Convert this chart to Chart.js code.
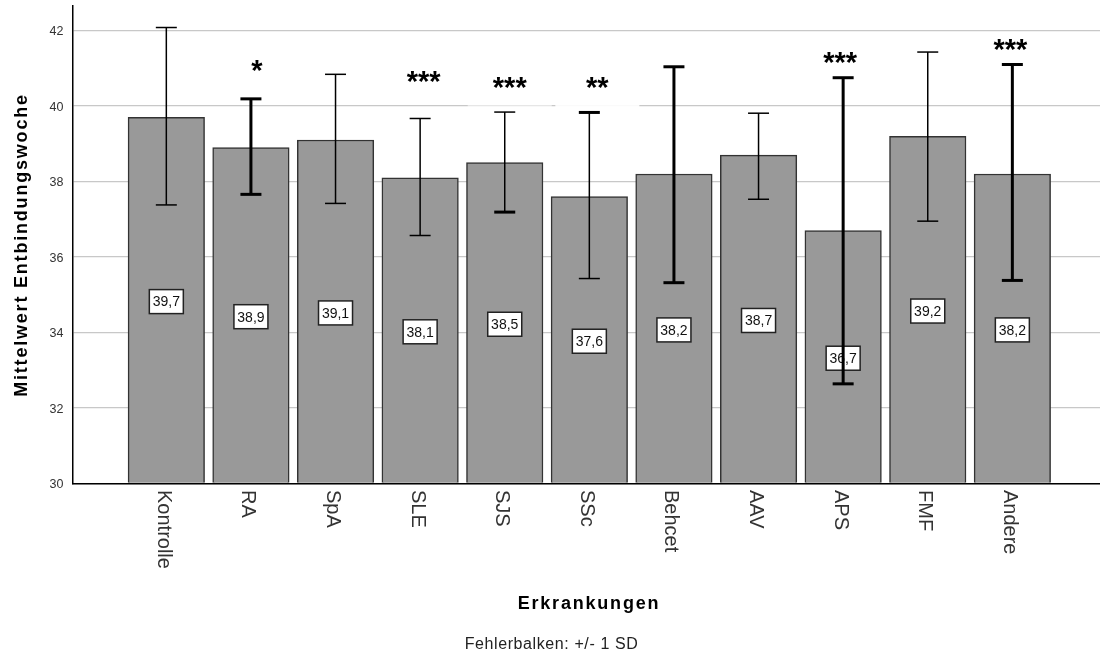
<!DOCTYPE html>
<html>
<head>
<meta charset="utf-8">
<script src="https://cdn.jsdelivr.net/npm/chart.js@4/dist/chart.umd.min.js"></script>
<style>
  html, body { margin: 0; padding: 0; background: #ffffff; }
  #wrap { width: 1100px; height: 653px; }
</style>
</head>
<body>
<div id="wrap"><canvas id="c" width="1100" height="653"></canvas></div>
<script>
// Gestational week at delivery by disease group (mean +/- 1 SD)
const categories = ['Kontrolle', 'RA', 'SpA', 'SLE', 'SJS', 'SSc', 'Behcet', 'AAV', 'APS', 'FMF', 'Andere'];
const means      = [39.7, 38.9, 39.1, 38.1, 38.5, 37.6, 38.2, 38.7, 36.7, 39.2, 38.2];
const sdLower    = [37.38, 37.66, 37.42, 36.57, 37.19, 35.43, 35.32, 37.53, 32.64, 36.95, 35.38];
const sdUpper    = [42.08, 40.19, 40.84, 39.67, 39.84, 39.83, 41.04, 39.81, 40.75, 41.43, 41.10];
const significance      = ['', '*', '', '***', '***', '**', '', '', '***', '', '***'];
const significanceLevel = [null, 41.05, null, 40.78, 40.62, 40.62, null, null, 41.28, null, 41.62];
const yTicks = [30, 32, 34, 36, 38, 40, 42];

// Stroke widths of the whiskers (stem, upper cap, lower cap)
const stemWidth  = [1.5, 3, 1.5, 1.5, 1.5, 1.5, 3, 1.5, 3, 1.5, 3];
const topCapW    = [1.5, 3, 1.5, 1.5, 1.5, 3, 3, 1.5, 3, 1.5, 3];
const bottomCapW = [1.5, 3, 1.5, 1.5, 3, 1.5, 3, 1.5, 3, 1.5, 3];
// small horizontal nudge of the significance marks (px)
const starShift  = [0, 6, 0, 3.5, 5, 8, 0, 0, -3, 0, -2];
// label backgrounds that sit over the 40 gridline
const starBgAlpha = [0, 0, 0, 0, 0.55, 0.9, 0, 0, 0, 0, 0];

const FONT = '"Liberation Sans", Arial, sans-serif';
const fmt = v => v.toFixed(1).replace('.', ',');

const decorations = {
  id: 'decorations',
  beforeDatasetsDraw(chart) {
    const ctx = chart.ctx;
    const xs = chart.scales.x, ys = chart.scales.y;
    ctx.save();
    categories.forEach((c, i) => {
      if (!starBgAlpha[i]) return;
      const cx = xs.getPixelForValue(i + 1) + starShift[i];
      ctx.fillStyle = 'rgba(255,255,255,' + starBgAlpha[i] + ')';
      ctx.fillRect(cx - 42, ys.getPixelForValue(40) - 3, 84, 4);
    });
    ctx.restore();
  },
  afterDatasetsDraw(chart) {
    const ctx = chart.ctx;
    const xs = chart.scales.x, ys = chart.scales.y;
    const meta = chart.getDatasetMeta(0);
    ctx.save();
    // value boxes in the middle of each bar
    ctx.font = '14px ' + FONT;
    ctx.textAlign = 'center';
    ctx.textBaseline = 'middle';
    meta.data.forEach((bar, i) => {
      const cy = (bar.y + bar.base) / 2 + 1.5;
      const w = 34, h = 24;
      ctx.fillStyle = '#ffffff';
      ctx.fillRect(bar.x - w / 2, cy - h / 2, w, h);
      ctx.strokeStyle = '#222222';
      ctx.lineWidth = 1.5;
      ctx.strokeRect(bar.x - w / 2, cy - h / 2, w, h);
      ctx.fillStyle = '#111111';
      ctx.fillText(fmt(means[i]), bar.x, cy + 1);
    });
    // whiskers
    ctx.strokeStyle = '#000000';
    meta.data.forEach((bar, i) => {
      const yt = ys.getPixelForValue(sdUpper[i]);
      const yb = ys.getPixelForValue(sdLower[i]);
      const x = bar.x;
      ctx.lineWidth = stemWidth[i];
      ctx.beginPath(); ctx.moveTo(x, yt); ctx.lineTo(x, yb); ctx.stroke();
      ctx.lineWidth = topCapW[i];
      ctx.beginPath(); ctx.moveTo(x - 10.5, yt); ctx.lineTo(x + 10.5, yt); ctx.stroke();
      ctx.lineWidth = bottomCapW[i];
      ctx.beginPath(); ctx.moveTo(x - 10.5, yb); ctx.lineTo(x + 10.5, yb); ctx.stroke();
    });
    // significance marks
    ctx.font = 'bold 29px ' + FONT;
    ctx.fillStyle = '#000000';
    ctx.textAlign = 'center';
    ctx.textBaseline = 'alphabetic';
    categories.forEach((c, i) => {
      if (!significance[i]) return;
      const m = ctx.measureText(significance[i]);
      const cx = xs.getPixelForValue(i + 1) + starShift[i];
      const cy = ys.getPixelForValue(significanceLevel[i]);
      const mid = (m.actualBoundingBoxAscent - m.actualBoundingBoxDescent) / 2;
      ctx.fillText(significance[i], cx, cy + mid);
    });
    ctx.restore();
  },
  afterDraw(chart) {
    const ctx = chart.ctx;
    const xs = chart.scales.x;
    ctx.save();
    // category names, rotated clockwise
    ctx.font = '20px ' + FONT;
    ctx.fillStyle = '#333333';
    ctx.textAlign = 'left';
    ctx.textBaseline = 'middle';
    categories.forEach((c, i) => {
      const x = xs.getPixelForValue(i + 1) - 3;
      ctx.save();
      ctx.translate(x, 490);
      ctx.rotate(Math.PI / 2);
      ctx.fillText(c, 0, 0);
      ctx.restore();
    });
    // axis titles
    ctx.fillStyle = '#000000';
    ctx.font = 'bold 18px ' + FONT;
    ctx.letterSpacing = '1.8px';
    ctx.textAlign = 'left';
    ctx.textBaseline = 'alphabetic';
    let t = 'Erkrankungen';
    let w = ctx.measureText(t).width;
    ctx.fillText(t, 589 - w / 2, 608.5);

    t = 'Mittelwert Entbindungswoche';
    w = ctx.measureText(t).width;
    ctx.save();
    ctx.translate(26.5, 245);
    ctx.rotate(-Math.PI / 2);
    ctx.fillText(t, -w / 2, 0);
    ctx.restore();

    // footnote
    ctx.fillStyle = '#222222';
    ctx.font = '16px ' + FONT;
    ctx.letterSpacing = '0.6px';
    t = 'Fehlerbalken: +/- 1 SD';
    w = ctx.measureText(t).width;
    ctx.fillText(t, 551.5 - w / 2, 648.5);
    ctx.restore();
  }
};

new Chart(document.getElementById('c'), {
  type: 'bar',
  data: {
    datasets: [{
      data: categories.map((c, i) => ({ x: i + 1, y: means[i] })),
      backgroundColor: '#999999',
      borderColor: '#333333',
      borderWidth: 1.5,
      borderSkipped: 'bottom',
      barThickness: 76.5,
      base: 30
    }]
  },
  options: {
    responsive: false,
    animation: false,
    devicePixelRatio: 1,
    layout: { padding: { top: 6, right: 0, bottom: 0, left: 0 } },
    plugins: { legend: { display: false }, tooltip: { enabled: false } },
    scales: {
      x: {
        type: 'linear',
        offset: false,
        min: -0.109,
        max: 12.036,
        grid: { display: false },
        border: { display: true, color: '#000000', width: 1.5 },
        ticks: { display: false },
        afterFit(scale) {
          scale.height = 169.5;
          scale.paddingLeft = 0; scale.paddingRight = 0;
        }
      },
      y: {
        min: 30,
        max: 42.65,
        afterBuildTicks(scale) { scale.ticks = yTicks.map(v => ({ value: v })); },
        ticks: {
          includeBounds: false,
          padding: 9,
          labelOffset: 1.5,
          color: '#333333',
          font: { family: FONT, size: 12.5 },
          callback: v => String(v)
        },
        grid: { color: '#c8c8c8', lineWidth: 1.3, drawTicks: false },
        border: { display: true, color: '#000000', width: 1.5 },
        afterFit(scale) {
          scale.width = 72.5;
          scale.paddingTop = 0; scale.paddingBottom = 0;
        }
      }
    }
  },
  plugins: [decorations]
});
</script>
</body>
</html>
